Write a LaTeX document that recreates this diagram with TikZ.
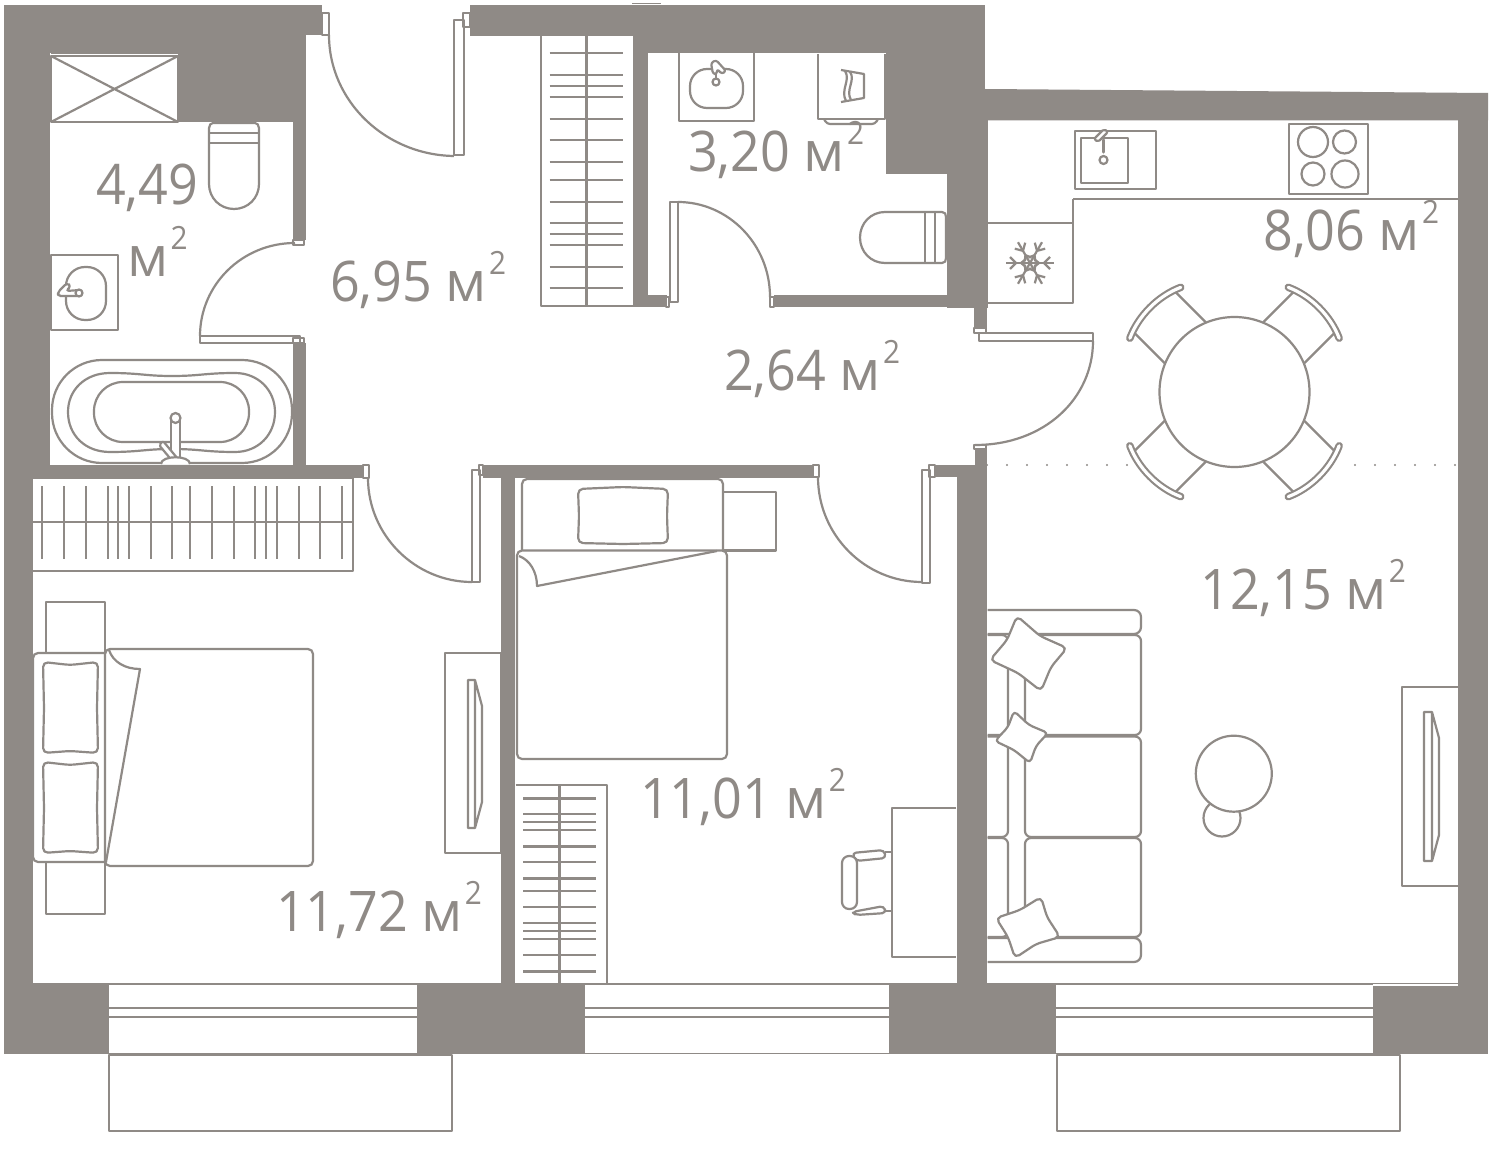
\documentclass[tikz,border=0pt]{standalone}
\usepackage{fontspec}
\usepackage{graphicx}
\usetikzlibrary{calc}
\newfontfamily\areafont[FakeStretch=0.93]{Open Sans}
\definecolor{wallc}{HTML}{8F8A86}
\tikzset{
  x=1pt,y=-1pt,
  wall/.style={fill=wallc,draw=none},
  ln/.style={draw=wallc,line width=2.2pt,line join=round},
  lnw/.style={ln,fill=white},
  thinln/.style={draw=wallc,line width=1.4pt,line join=round},
  areatext/.style={text=wallc,anchor=base west,inner sep=0pt,font=\areafont\fontsize{56}{60}\selectfont},
}
\newcommand{\sqm}{\scalebox{1.08}[1]{м}\hspace{2pt}\raisebox{27pt}{\fontsize{32}{33}\selectfont 2}}
\newcommand{\pillowshape}[4]{\draw[lnw,rounded corners=3.5pt]
  ($#1!.5!#2$) -- ($#1!.18!#2!.03!#3$) -- #2 -- cycle;
  \draw[lnw,rounded corners=14pt]
  ($#1!.5!#2!.05!#3$) -- #2 -- ($#2!.5!#3!.05!#4$) -- #3 -- ($#3!.5!#4!.05!#1$) -- #4 -- ($#4!.5!#1!.05!#2$) -- #1 -- cycle;}
\newcommand{\jamb}[4]{\draw[thinln,fill=white] (#1,#2) rectangle (#3,#4);}
\begin{document}
\begin{tikzpicture}
\useasboundingbox (0,0) rectangle (1500,1150);
\fill[white] (0,0) rectangle (1500,1150);
% ---- walls
\fill[wall] (4,5) rectangle (322,35);
\fill[wall] (4,5) rectangle (50,478);
\fill[wall] (50,35) rectangle (178,53);
\fill[wall] (178,35) rectangle (306,122);
\fill[wall] (293,122) rectangle (306,240);
\fill[wall] (293,343) rectangle (306,478);
\fill[wall] (4,465) rectangle (363,478);
\fill[wall] (4,478) rectangle (33,984);
\fill[wall] (470,5) rectangle (985,36);
\fill[wall] (633,36) rectangle (648,307);
\fill[wall] (633,295) rectangle (667,307);
\fill[wall] (648,36) rectangle (985,53);
\fill[wall] (886,53) rectangle (985,174);
\fill[wall] (985,89) -- (1488,93) -- (1488,120.5) -- (985,120.5) -- cycle;
\fill[wall] (947,90) rectangle (988,308);
\fill[wall] (774,295) rectangle (987,307);
\fill[wall] (974,307) rectangle (987,330);
\fill[wall] (1458,93) rectangle (1488,1054);
\fill[wall] (975,445) rectangle (987,465);
\fill[wall] (957,465) rectangle (987,984);
\fill[wall] (934,465) rectangle (957,477);
\fill[wall] (483,465) rectangle (815,478);
\fill[wall] (501,478) rectangle (515,984);
\fill[wall] (4,983) rectangle (1488,1054);
\fill[white] (1373,984) rectangle (1458,985.5);
% windows
\foreach \wa/\wb in {109/417,585/889,1056/1373}{
  \fill[white] (\wa,985) rectangle (\wb,1053);
  \draw[ln] (\wa,1008) -- (\wb,1008);
  \draw[ln] (\wa,1017) -- (\wb,1017);
}
% balconies
\draw[ln] (109,1055) rectangle (452,1131);
\draw[ln] (1057,1055) rectangle (1400,1131);
\draw[draw=wallc,line width=1pt] (632,4) -- (661,4);
% dotted room boundary
\foreach \dx in {987,1007,1027,1047,1067,1087,1107,1127,1355,1375,1395,1415,1435,1455}{
  \fill[wallc] (\dx,465) circle (1.2pt);
}
% ---- doors
% entrance
\jamb{322}{13}{329}{35}
\jamb{463}{13}{470}{27}
\draw[ln] (454,155) rectangle (464,20);
\draw[ln] (329,35) .. controls (329,101) and (385,155) .. (454,156);
% bath
\jamb{293}{240}{304}{245}
\jamb{293}{338}{304}{343}
\draw[ln] (200,336) rectangle (300,343);
\draw[ln] (200,336) .. controls (200,285) and (242,243) .. (295,243);
% bedroom 1
\jamb{363}{465}{369}{478}
\jamb{479}{465}{483}{475}
\draw[ln] (472,470) rectangle (480,582);
\draw[ln] (368,478) .. controls (368,535) and (415,582) .. (472,582);
% bedroom 2
\jamb{813}{465}{819}{477}
\jamb{929}{465}{935}{477}
\draw[ln] (922,470) rectangle (930,583);
\draw[ln] (818,477) .. controls (818,535) and (865,582) .. (922,582);
% WC
\draw[ln] (670,202) rectangle (678,302);
\jamb{666}{297}{669}{307}
\jamb{770}{297}{774}{307}
\draw[ln] (678,202) .. controls (728,202) and (770,244) .. (770,297);
% living
\jamb{974}{328}{986}{333}
\jamb{974}{445}{986}{449}
\draw[ln] (979,333) rectangle (1093,341);
\draw[ln] (1093,341) .. controls (1093,398) and (1045,445) .. (975,445);
% ---- bathroom
\draw[ln] (51,53) -- (178,53);
\draw[ln] (51,56) rectangle (178,122);
\draw[ln] (51,56) -- (178,122) (51,122) -- (178,56);
\draw[ln] (209,133) -- (209,184) .. controls (209,198) and (220,209) .. (234,209) .. controls (248,209) and (259,198) .. (259,184) -- (259,128) .. controls (259,125) and (257,123) .. (255,123) -- (213,123) .. controls (211,123) and (209,125) .. (209,128) -- cycle;
\draw[ln] (209,133) -- (259,133) (209,143) -- (259,143);
\draw[ln] (51,255) rectangle (118,330);
\draw[ln,rounded corners=19pt] (66,267) rectangle (106,320);
\draw[lnw,rounded corners=3pt] (58,292) -- (67,283) -- (71,286) -- (66,291) -- (80,290) -- (80,296) -- (63,296) -- (58,296) -- cycle;
\draw[lnw] (79,293) circle (3.5pt);
% bathtub
\draw[ln,rounded corners=50pt] (52,360) rectangle (292,463);
\draw[ln] (68,412) .. controls (68,390) and (85,373) .. (110,373) .. controls (140,373) and (145,376) .. (172,376) .. controls (200,376) and (205,373) .. (235,373) .. controls (258,373) and (275,390) .. (275,412) .. controls (275,435) and (258,452) .. (235,452) .. controls (205,452) and (200,449) .. (172,449) .. controls (145,449) and (140,452) .. (110,452) .. controls (85,452) and (68,435) .. (68,412) -- cycle;
\draw[ln,rounded corners=29pt] (94,382) rectangle (249,442);
\draw[lnw] (171,420) rectangle (180,463);
\draw[lnw] (175.5,418) circle (5pt);
\draw[lnw,rounded corners=2pt] (159,445) -- (163,441) -- (178,459) -- (174,463) -- cycle;
\draw[lnw] (161,464) .. controls (161,455) and (190,455) .. (190,464);
\fill[wall] (150,465) rectangle (200,467);
% ---- hall closet
\draw[ln] (541,36) -- (541,306) -- (633,306);
\draw[ln] (586.5,36) -- (586.5,306);
\foreach \sy in {53.3,75.3,86,97,118.7,140.3,162,180,201.7,223.3,234,245,266.7,288.3}{
  \draw[ln] (549.5,\sy) -- (623,\sy);
}
% ---- WC fixtures
\draw[ln] (679,53) -- (679,121) -- (754,121) -- (754,53);
\draw[ln,rounded corners=17pt] (690,69) rectangle (743,108);
\draw[lnw] (716,66) -- (716,80);
\draw[lnw] (716,82) circle (3.5pt);
\draw[lnw,rounded corners=2.5pt] (711,63) -- (716,60) -- (726,71) -- (722,74) -- (717,69) -- (717,74) -- (713,74) -- cycle;
\draw[ln] (818,54) -- (818,119) -- (885,119) -- (885,54);
\draw[ln,rounded corners=3pt] (824,119) -- (827,124) -- (875,124) -- (878,119);
\draw[ln] (841,70) -- (864,74) -- (864,98) -- (841,102);
\draw[ln] (845,71) .. controls (851,80) and (840,90) .. (846,101);
\draw[ln] (850,72) .. controls (856,80) and (845,90) .. (851,100);
\draw[ln] (940,212) -- (885,212) .. controls (871,212) and (860,223) .. (860,237.5) .. controls (860,252) and (871,263) .. (885,263) -- (942,263) .. controls (945,263) and (946,261) .. (946,258) -- (946,217) .. controls (946,214) and (945,212) .. (942,212) -- cycle;
\draw[ln] (925,212) -- (925,263) (935,212) -- (935,263);
% ---- kitchen
\draw[ln] (1073,199) -- (1458,199);
\draw[ln] (1073,199) -- (1073,303) -- (988,303);
\draw[ln] (988,223) -- (1073,223);
\draw[ln] (1075,131) rectangle (1156,189);
\draw[ln] (1081,138) rectangle (1128,183);
\draw[lnw] (1103.5,160) circle (4pt);
\draw[ln,line width=3.5pt,line cap=round] (1103.5,140) -- (1103.5,152);
\draw[lnw,rounded corners=2pt] (1094,139) -- (1104,129) -- (1108,132) -- (1098,142) -- cycle;
\draw[ln] (1289,124) rectangle (1368,194);
\draw[ln] (1313,142) circle (15pt);
\draw[ln] (1344.5,142) circle (11.5pt);
\draw[ln] (1313,174) circle (11.5pt);
\draw[ln] (1345,174) circle (13.5pt);
% snowflake
\begin{scope}[shift={(1030,263)}]
\foreach \a in {0,60,120,180,240,300}{
  \begin{scope}[rotate=\a]
    \draw[ln] (0,0) -- (24,0);
    \draw[ln] (14,0) -- (20,6) (14,0) -- (20,-6);
    \draw[ln] (4,4) -- (9,0) -- (4,-4);
  \end{scope}
}
\end{scope}
% dining set
\begin{scope}[shift={(1234.5,392)}]
\foreach \a in {45,135,225,315}{
  \begin{scope}[rotate=\a]
    \draw[ln] (70,-29) -- (114,-29) (70,29) -- (114,29);
    \draw[draw=wallc,line width=7.5pt,line cap=round] (112,-36) .. controls (122,-14) and (122,14) .. (112,36);
    \draw[draw=white,line width=3.2pt,line cap=round] (112,-36) .. controls (122,-14) and (122,14) .. (112,36);
  \end{scope}
}
\draw[lnw] (0,0) circle (75pt);
\end{scope}
% ---- bedroom 1
\draw[ln] (33,478) -- (353,478) -- (353,571) -- (33,571);
\draw[ln] (33,522) -- (353,522);
\foreach \vx in {42.3,64,86,107.7,118.3,129,150.7,172.3,190.3,212,233.7,255.3,266,277,298.7,320.3,342}{
  \draw[ln] (\vx,486) -- (\vx,559);
}
\draw[ln] (46,653) -- (46,602) -- (105,602) -- (105,653);
\draw[ln] (46,862) -- (46,914) -- (105,914) -- (105,862);
\draw[ln,rounded corners=5pt] (105,653) -- (33,653) -- (33,862) -- (105,862);
\draw[ln] (105,653) -- (105,862);
\draw[ln,rounded corners=5pt] (105,649) rectangle (313,866);
\draw[ln] (109,650) .. controls (113,662) and (125,669) .. (140,669) -- (106,862);
\draw[lnw,rounded corners=5pt] (43,662) -- (70,665) -- (98,662) -- (97,708) -- (98,753) -- (70,751) -- (43,753) -- (44,708) -- cycle;
\draw[lnw,rounded corners=5pt] (43,762) -- (70,765) -- (98,762) -- (97,808) -- (98,853) -- (70,851) -- (43,853) -- (44,808) -- cycle;
\draw[ln] (445,653) rectangle (501,853);
\draw[ln] (475,680) -- (468,680) -- (468,828) -- (475,828) -- (482,802) -- (482,706) -- cycle (475,680) -- (475,828);
% ---- bedroom 2
\draw[ln] (723,492) -- (776,492) -- (776,550.5) -- (723,550.5);
\draw[ln,rounded corners=5pt] (522,550.5) -- (522,479) -- (723,479) -- (723,550.5);
\draw[ln,rounded corners=5pt] (517,550.5) rectangle (727,759);
\draw[ln] (519,556) .. controls (530,560) and (537,572) .. (537,586) -- (717,551);
\draw[lnw,rounded corners=5pt] (578,489) -- (623,487) -- (668,489) -- (667,516) -- (668,543) -- (623,544) -- (578,543) -- (579,516) -- cycle;
\draw[ln] (515.5,785) -- (607,785) -- (607,984);
\draw[ln] (559.5,785) -- (559.5,984);
\foreach \sy in {798.5,814.3,822.3,830.2,846.4,862.2,878.4,891.1,907.3,923.2,931.1,939.3,955.2,971.4}{
  \draw[ln] (523,\sy) -- (596,\sy);
}
\draw[ln] (956,808) -- (892,808) -- (892,957) -- (956,957);
\draw[ln] (885,852) -- (892,852) (885,911) -- (892,911);
\draw[lnw,rounded corners=4pt] (852,853) -- (884,850) -- (886,858) -- (856,861) -- cycle;
\draw[lnw,rounded corners=4pt] (852,912) -- (884,906) -- (886,913) -- (856,915) -- cycle;
\draw[lnw,rounded corners=7pt] (842,856) rectangle (857,909);
% ---- living room
\draw[ln,rounded corners=7pt] (987.5,610) -- (1141,610) -- (1141,634) -- (987.5,634);
\draw[ln,rounded corners=7pt] (987.5,938) -- (1141,938) -- (1141,962) -- (987.5,962);
\foreach \ya/\yb in {635/735,736.5/837,838/937}{
  \draw[ln,rounded corners=6pt] (1025,\ya) -- (1141,\ya) -- (1141,\yb) -- (1025,\yb) -- cycle;
  \draw[ln,rounded corners=6pt] (987.5,\ya) -- (1008,\ya) -- (1008,\yb) -- (987.5,\yb);
}
\draw[lnw,rounded corners=5pt] (1017,616) -- (1040,636) -- (1067,648) -- (1051,667) -- (1041,691) -- (1018,673) -- (990,660) -- (1007,640) -- cycle;
\draw[lnw,rounded corners=4pt] (1014,711) -- (1029,725) -- (1048,733) -- (1036,746) -- (1030,763) -- (1014,750) -- (995,741) -- (1008,727) -- cycle;
\draw[lnw,rounded corners=5pt] (1041,897) -- (1047,917) -- (1060,937) -- (1036,944) -- (1015,958) -- (1008,937) -- (996,918) -- (1020,910) -- cycle;
\draw[ln] (1222,818) circle (18.5pt);
\draw[lnw] (1233.8,773.7) circle (38pt);
\draw[ln] (1458,687) -- (1402,687) -- (1402,886) -- (1458,886);
\draw[ln] (1432,712) -- (1424,712) -- (1424,861) -- (1432,861) -- (1439,835) -- (1439,738) -- cycle (1432,712) -- (1432,861);
% ---- areas
\node[areatext] (a449a) at (96,205) {4,49};
\node[areatext] (a449b) at (127,277) {\sqm};
\node[areatext] (a695) at (330,302) {6,95 \sqm};
\node[areatext] (a320) at (688,172) {3,20 \sqm};
\node[areatext] (a264) at (724,391) {2,64 \sqm};
\node[areatext] (a806) at (1263,251) {8,06 \sqm};
\node[areatext] (a1215) at (1200,609) {12,15 \sqm};
\node[areatext] (a1101) at (640,818) {11,01 \sqm};
\node[areatext] (a1172) at (276,931) {11,72 \sqm};
\end{tikzpicture}
\end{document}
